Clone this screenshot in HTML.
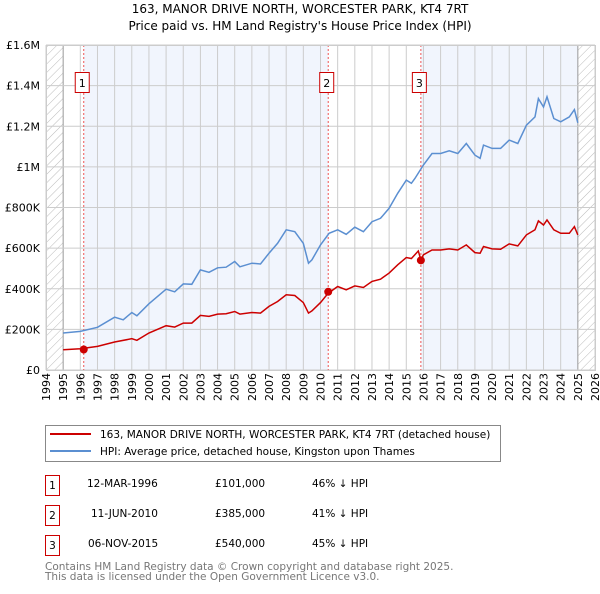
<!DOCTYPE html>
<html><head><meta charset="utf-8"><style>
body{margin:0;background:#fff;font-family:"DejaVu Sans","Liberation Sans",sans-serif;}
svg text{font-family:"DejaVu Sans","Liberation Sans",sans-serif;}
</style></head><body>
<svg id="c" width="600" height="590" xmlns="http://www.w3.org/2000/svg">
<defs><pattern id="hatch" width="6" height="6" patternUnits="userSpaceOnUse" patternTransform="rotate(45)"><line x1="0" y1="0" x2="0" y2="6" stroke="#bbb" stroke-width="1"/></pattern></defs>
<text x="300" y="13" text-anchor="middle" font-size="12">163, MANOR DRIVE NORTH, WORCESTER PARK, KT4 7RT</text>
<text x="300" y="30" text-anchor="middle" font-size="12">Price paid vs. HM Land Registry's House Price Index (HPI)</text>
<g id="plot"></g>
<g>
<rect x="45.5" y="425.5" width="455" height="36" fill="#fff" stroke="#888"/>
<line x1="50" y1="434" x2="91" y2="434" stroke="#cc0000" stroke-width="2"/>
<text x="100" y="438" font-size="10.5">163, MANOR DRIVE NORTH, WORCESTER PARK, KT4 7RT (detached house)</text>
<line x1="50" y1="451" x2="91" y2="451" stroke="#5b8fd1" stroke-width="2"/>
<text x="100" y="455" font-size="10.5">HPI: Average price, detached house, Kingston upon Thames</text>
</g>
<g font-size="10.5">
<rect x="45.5" y="475.5" width="14" height="20" fill="#fff" stroke="#cc0000"/><text x="52.5" y="489" text-anchor="middle">1</text>
<text x="87" y="487">12-MAR-1996</text><text x="215" y="487">£101,000</text><text x="312" y="487">46% ↓ HPI</text>
<rect x="45.5" y="505.5" width="14" height="20" fill="#fff" stroke="#cc0000"/><text x="52.5" y="519" text-anchor="middle">2</text>
<text x="91" y="517">11-JUN-2010</text><text x="215" y="517">£385,000</text><text x="312" y="517">41% ↓ HPI</text>
<rect x="45.5" y="535.5" width="14" height="20" fill="#fff" stroke="#cc0000"/><text x="52.5" y="549" text-anchor="middle">3</text>
<text x="88" y="547">06-NOV-2015</text><text x="215" y="547">£540,000</text><text x="312" y="547">45% ↓ HPI</text>
</g>
<text x="45" y="570" font-size="10.5" fill="#777">Contains HM Land Registry data © Crown copyright and database right 2025.</text>
<text x="45" y="580" font-size="10.5" fill="#777">This data is licensed under the Open Government Licence v3.0.</text>
</svg>
<script>
const hpiYears=[1995,1996,1997,1998,1998.5,1999,1999.3,2000,2001,2001.5,2002,2002.5,2003,2003.5,2004,2004.5,2005,2005.3,2006,2006.5,2007,2007.5,2008,2008.5,2009,2009.3,2009.5,2010,2010.5,2011,2011.5,2012,2012.5,2013,2013.5,2014,2014.5,2015,2015.3,2015.5,2016,2016.5,2017,2017.5,2018,2018.5,2019,2019.3,2019.5,2020,2020.5,2021,2021.5,2022,2022.5,2022.7,2023,2023.2,2023.6,2024,2024.5,2024.8,2025];
const hpiValues=[182,190,210,260,247,283,267,326,398,385,424,422,493,481,503,506,534,508,526,522,575,624,690,681,624,526,542,616,673,690,668,703,681,730,747,796,870,935,919,943,1009,1066,1066,1079,1066,1115,1058,1042,1107,1091,1091,1132,1115,1205,1246,1336,1295,1345,1238,1222,1246,1282,1217];
const priceYears=[1995,1996,1997,1998,1999,1999.3,2000,2001,2001.5,2002,2002.5,2003,2003.5,2004,2004.5,2005,2005.3,2006,2006.5,2007,2007.5,2008,2008.5,2009,2009.3,2009.5,2010,2010.45,2011,2011.5,2012,2012.5,2013,2013.5,2014,2014.5,2015,2015.3,2015.7,2015.85,2016,2016.5,2017,2017.5,2018,2018.5,2019,2019.3,2019.5,2020,2020.5,2021,2021.5,2022,2022.5,2022.7,2023,2023.2,2023.6,2024,2024.5,2024.8,2025];
const priceValues=[100,105,116,138,154,146,182,218,211,231,231,269,264,275,277,288,275,283,280,313,337,370,367,332,280,291,332,378,411,395,414,406,436,447,477,518,554,549,586,542,567,591,591,596,591,616,578,575,608,596,594,621,611,665,690,734,714,739,690,673,673,706,665];
const saleYears=[1996.2,2010.45,2015.85];
const saleValues=[101,385,540];
const saleLabels=["1","2","3"];
const yTicks=[0,200,400,600,800,1000,1200,1400,1600];
const yTickLabels=["£0","£200K","£400K","£600K","£800K","£1M","£1.2M","£1.4M","£1.6M"];
const X0=46,X1=595,Y0=370,Y1=45;
const x=y=>X0+(y-1994)/32*(X1-X0);
const yv=v=>Y0-v/1600*(Y0-Y1);
const NS="http://www.w3.org/2000/svg";
const g=document.getElementById('plot');
function mk(t,a,p){const e=document.createElementNS(NS,t);for(const k in a)e.setAttribute(k,a[k]);(p||g).appendChild(e);return e;}
let r;
r=mk('rect',{x:x(1996.2),y:Y1,width:x(2010.45)-x(1996.2),height:Y0-Y1,fill:'#eef3fc',opacity:0.8});


r=mk('rect',{x:x(2015.85),y:Y1,width:x(2025)-x(2015.85),height:Y0-Y1,fill:'#eef3fc',opacity:0.8});


r=mk('rect',{x:X0,y:Y1,width:x(1995)-X0,height:Y0-Y1,fill:'url(#hatch)'});


r=mk('rect',{x:x(2025),y:Y1,width:X1-x(2025),height:Y0-Y1,fill:'url(#hatch)'});


for(let yr=1994;yr<=2026;yr++){
 r=mk('line',{x1:x(yr),x2:x(yr),y1:Y1,y2:Y0,stroke:(yr==1995||yr==2025)?'#999':'#ccc','stroke-width':1});
 
 
 const tx=x(yr)+4;
 r=mk('text',{x:0,y:0,transform:`translate(${tx},373) rotate(-90)`,'text-anchor':'end','font-size':11});
 r.textContent=yr;
 
 
}
yTicks.forEach((v,i)=>{
 r=mk('line',{x1:X0,x2:X1,y1:yv(v),y2:yv(v),stroke:'#ccc','stroke-width':1});
 
 
 r=mk('text',{x:40,y:yv(v)+4,'text-anchor':'end','font-size':11});
 r.textContent=yTickLabels[i];
 
 
});
saleYears.forEach((s,i)=>{
 r=mk('line',{x1:x(s),x2:x(s),y1:Y1,y2:Y0,stroke:'#e55','stroke-width':1,'stroke-dasharray':'2,2'});
 
 
});
const pts=(xs,vs)=>xs.map((a,i)=>x(a).toFixed(1)+','+yv(vs[i]).toFixed(1)).join(' ');
r=mk('polyline',{points:pts(hpiYears,hpiValues),fill:'none',stroke:'#5b8fd1','stroke-width':1.5});


r=mk('polyline',{points:pts(priceYears,priceValues),fill:'none',stroke:'#cc0000','stroke-width':1.5});


saleYears.forEach((s,i)=>{
 r=mk('circle',{cx:x(s),cy:yv(saleValues[i]),r:4,fill:'#cc0000'});
 
 
 const bx=x(s)-8;
 r=mk('rect',{x:bx-0.5,y:72.5,width:14,height:20,fill:'#fff',stroke:'#cc0000'});
 
 
 r=mk('text',{x:bx+6.5,y:87,'text-anchor':'middle','font-size':11});
 r.textContent=saleLabels[i];
 
 
});
r=mk('rect',{x:X0+0.5,y:Y1+0.5,width:X1-X0,height:Y0-Y1,fill:'none',stroke:'#ccc'});


</script>
</body></html>
